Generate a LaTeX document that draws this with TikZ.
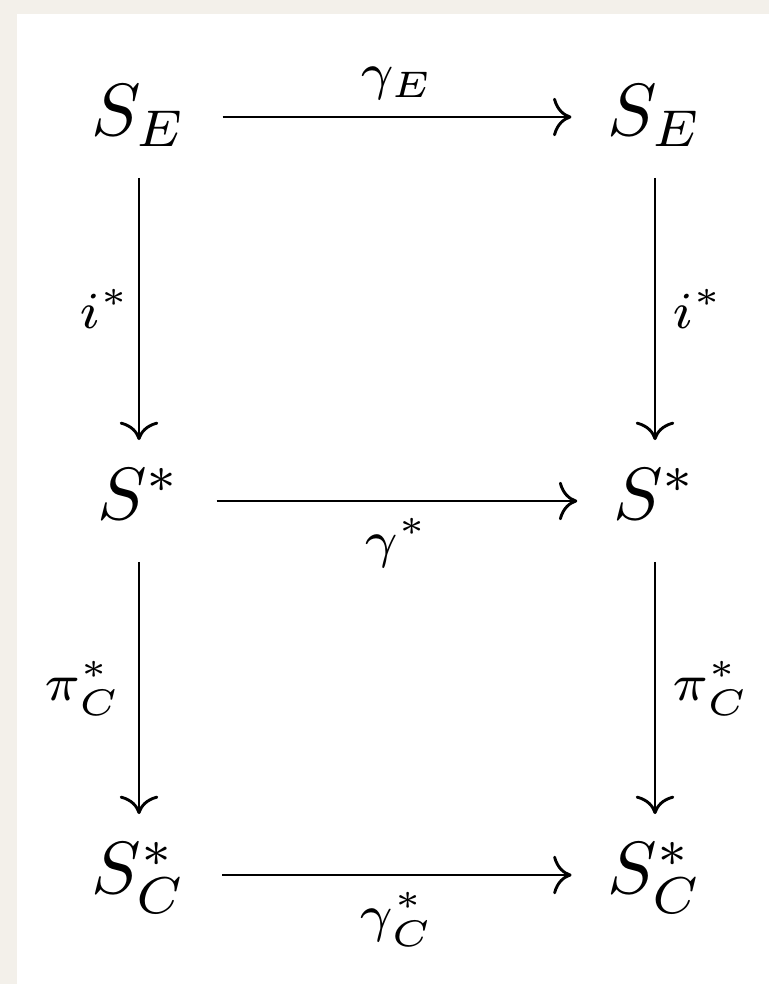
\documentclass[tikz,border=0pt]{standalone}
\usepackage{xcolor}
\usepackage{amsmath}
\usepackage{tikz}
\usetikzlibrary{arrows.meta,positioning}
\definecolor{paperbeige}{RGB}{243,240,234}
\tikzset{
  obj/.style ={scale=3.7, transform shape, inner xsep=4.65pt, inner ysep=2.43pt,
               text height=8.1pt, text depth=3.11pt},
  map/.style ={-{To[length=9.2pt,width=19.3pt]}, line width=1.45pt},
  lbl/.style ={scale=3.7, transform shape, inner sep=1.6pt}
}
\begin{document}
\begin{tikzpicture}[x=0.5pt, y=-0.5pt, on grid]
\fill[paperbeige] (0,0) rectangle (769,984);
\fill[white] (17,14) rectangle (769,984);
\useasboundingbox (0,0) rectangle (769,984);
% top row
\node[obj] (se1) at (139,117) {$S_E$};
\node[obj, right=258pt of se1] (se2) {$S_E$};
% middle row
\node[obj, below=192pt of se1] (s1) {$S^*$};
\node[obj, right=258pt of s1] (s2) {$S^*$};
% bottom row
\node[obj, below=187pt of s1] (sc1) {$S_C^*$};
\node[obj, right=258pt of sc1] (sc2) {$S_C^*$};
\draw[map] (se1) -- node[lbl, above]{$\scriptstyle\gamma_E$} (se2);
\draw[map] (s1) -- node[lbl, below]{$\scriptstyle\gamma^*$} (s2);
\draw[map] (sc1) -- node[lbl, below]{$\scriptstyle\gamma_C^*$} (sc2);
\draw[map] (se1) -- node[xshift=5pt, lbl, left]{$\scriptstyle i^*$} (s1);
\draw[map] (se2) -- node[lbl, right]{$\scriptstyle i^*$} (s2);
\draw[map] (s1) -- node[lbl, left]{$\scriptstyle\pi_C^*$} (sc1);
\draw[map] (s2) -- node[lbl, right]{$\scriptstyle\pi_C^*$} (sc2);
\end{tikzpicture}
\end{document}
